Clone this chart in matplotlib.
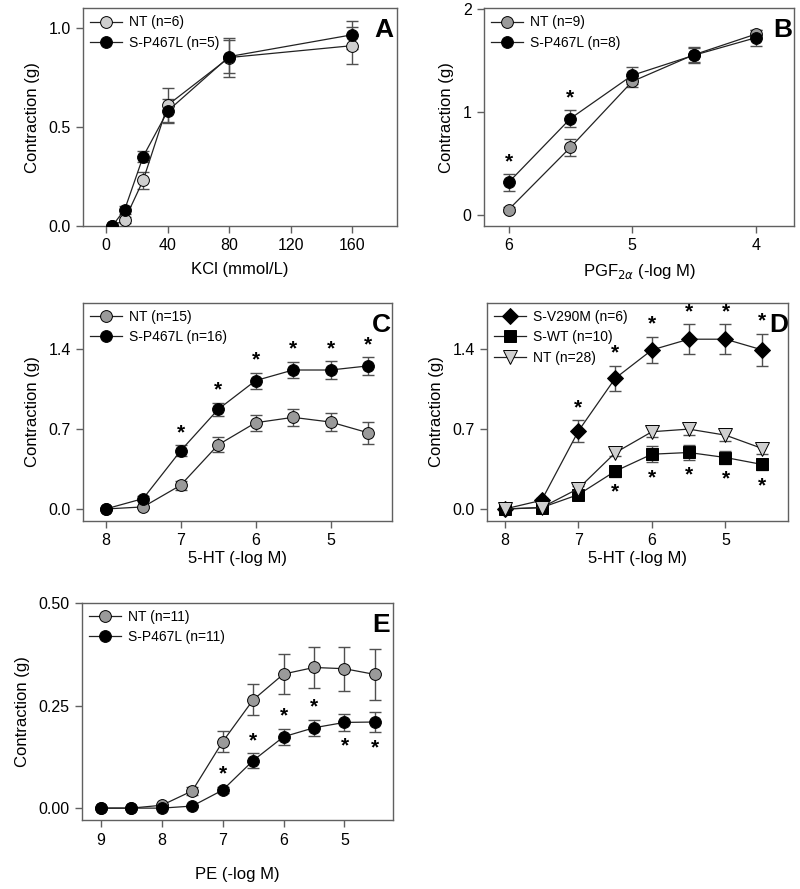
import matplotlib
matplotlib.use("Agg")
import matplotlib.pyplot as plt
import numpy as np

plt.rcParams['font.family'] = ['Liberation Sans', 'DejaVu Sans']

# ---------------- Data ----------------
# Panel A: KCl
a_x = [4, 12, 24, 40, 80, 160]
a_nt = [0.0, 0.03, 0.23, 0.61, 0.85, 0.91]
a_nt_err = [0.0, 0.015, 0.042, 0.085, 0.10, 0.095]
a_sp = [0.0, 0.082, 0.35, 0.58, 0.855, 0.965]
a_sp_err = [0.0, 0.02, 0.03, 0.06, 0.085, 0.07]

# Panel B: PGF2a
b_x = [6, 5.5, 5, 4.5, 4]
b_nt = [0.055, 0.66, 1.30, 1.56, 1.76]
b_nt_err = [0.02, 0.085, 0.05, 0.07, 0.04]
b_sp = [0.32, 0.94, 1.36, 1.555, 1.725]
b_sp_err = [0.08, 0.08, 0.08, 0.08, 0.08]
b_star = [True, True, False, False, False]

# Panel C: 5-HT
c_x = [8, 7.5, 7, 6.5, 6, 5.5, 5, 4.5]
c_nt = [0.0, 0.018, 0.208, 0.562, 0.756, 0.803, 0.762, 0.668]
c_nt_err = [0.0, 0.01, 0.04, 0.065, 0.07, 0.075, 0.08, 0.095]
c_sp = [0.0, 0.091, 0.51, 0.873, 1.125, 1.218, 1.218, 1.254]
c_sp_err = [0.0, 0.02, 0.05, 0.06, 0.07, 0.073, 0.075, 0.077]
c_star = [False, False, True, True, True, True, True, True]

# Panel D: 5-HT
d_x = [8, 7.5, 7, 6.5, 6, 5.5, 5, 4.5]
d_v290m = [0.0, 0.076, 0.683, 1.145, 1.394, 1.488, 1.488, 1.394]
d_v290m_err = [0.0, 0.02, 0.095, 0.11, 0.117, 0.13, 0.13, 0.143]
d_swt = [0.0, 0.012, 0.126, 0.331, 0.48, 0.495, 0.451, 0.39]
d_swt_err = [0.0, 0.01, 0.02, 0.05, 0.07, 0.063, 0.055, 0.05]
d_nt = [0.0, 0.012, 0.179, 0.492, 0.677, 0.70, 0.647, 0.53]
d_nt_err = [0.0, 0.01, 0.02, 0.03, 0.047, 0.048, 0.05, 0.05]
d_star_v290m = [False, False, True, True, True, True, True, True]
d_star_swt = [False, False, False, True, True, True, True, True]

# Panel E: PE
e_x = [9, 8.5, 8, 7.5, 7, 6.5, 6, 5.5, 5, 4.5]
e_nt = [0.0, 0.0, 0.007, 0.042, 0.162, 0.264, 0.327, 0.343, 0.34, 0.326]
e_nt_err = [0.0, 0.0, 0.004, 0.01, 0.025, 0.038, 0.048, 0.05, 0.054, 0.063]
e_sp = [0.0, 0.0, 0.0, 0.005, 0.044, 0.116, 0.174, 0.196, 0.209, 0.21]
e_sp_err = [0.0, 0.0, 0.0, 0.003, 0.008, 0.018, 0.02, 0.02, 0.02, 0.025]
e_star_above = [False, False, False, False, True, True, True, True, False, False]
e_star_below = [False, False, False, False, False, False, False, False, True, True]

# ---------------- Style ----------------
LIGHT = '#cfcfcf'
MID = '#9a9a9a'
ERRC = '#505050'
SPINE = '#606060'
MS = 8.5


def style_axes(ax):
    for s in ax.spines.values():
        s.set_color(SPINE)
        s.set_linewidth(1.0)
    ax.tick_params(direction='out', length=5, width=1.0, color=SPINE,
                   labelsize=11.5, pad=4, top=False, right=False)
    ax.set_ylabel('Contraction (g)', fontsize=12, labelpad=6)


def series(ax, x, y, err, marker, fc, label, ms=MS):
    ax.errorbar(x, y, yerr=err, fmt='none', ecolor=ERRC, elinewidth=1.0,
                capsize=4, capthick=1.0, zorder=2)
    ax.plot(x, y, color='#222222', lw=0.9, marker=marker, ms=ms,
            mfc=fc, mec='black', mew=0.7, label=label, zorder=3)


def stars(ax, x, y, err, flags, below=False, off=9):
    for xi, yi, ei, f in zip(x, y, err, flags):
        if not f:
            continue
        if below:
            ax.annotate('*', (xi, yi - ei), xytext=(0, -off), textcoords='offset points',
                        ha='center', va='center', fontsize=15, fontweight='bold')
        else:
            ax.annotate('*', (xi, yi + ei), xytext=(0, off), textcoords='offset points',
                        ha='center', va='center', fontsize=15, fontweight='bold')


def legend(ax):
    ax.legend(loc='upper left', frameon=False, fontsize=10, handlelength=2.3,
              handletextpad=0.5, borderaxespad=0.3, labelspacing=0.45,
              borderpad=0.2)


def letter(ax, s, xpos=0.99):
    ax.text(xpos, 0.955, s, transform=ax.transAxes, ha='right', va='top',
            fontsize=19, fontweight='bold')


fig = plt.figure(figsize=(8, 8.89), dpi=100)

# Panel A
axA = fig.add_axes([0.104, 0.746, 0.392, 0.2445])
series(axA, a_x, a_nt, a_nt_err, 'o', LIGHT, 'NT (n=6)')
series(axA, a_x, a_sp, a_sp_err, 'o', 'black', 'S-P467L (n=5)')
axA.set_xlim(-15, 189)
axA.set_ylim(0, 1.098)
axA.set_xticks([0, 40, 80, 120, 160])
axA.set_yticks([0.0, 0.5, 1.0])
axA.set_yticklabels(['0.0', '0.5', '1.0'])
axA.set_xlabel('KCl (mmol/L)', fontsize=12, labelpad=6)
style_axes(axA)
legend(axA)
letter(axA, 'A')

# Panel B
axB = fig.add_axes([0.605, 0.746, 0.3875, 0.2445])
series(axB, b_x, b_nt, b_nt_err, 'o', MID, 'NT (n=9)')
series(axB, b_x, b_sp, b_sp_err, 'o', 'black', 'S-P467L (n=8)')
stars(axB, b_x, b_sp, b_sp_err, b_star)
axB.set_xlim(6.2, 3.69)
axB.set_ylim(-0.103, 2.01)
axB.set_xticks([6, 5, 4])
axB.set_yticks([0, 1, 2])
axB.set_xlabel(r'PGF$_{2\alpha}$ (-log M)', fontsize=12, labelpad=6)
style_axes(axB)
legend(axB)
letter(axB, 'B', 0.995)

# Panel C
axC = fig.add_axes([0.104, 0.414, 0.386, 0.245])
series(axC, c_x, c_nt, c_nt_err, 'o', MID, 'NT (n=15)')
series(axC, c_x, c_sp, c_sp_err, 'o', 'black', 'S-P467L (n=16)')
stars(axC, c_x, c_sp, c_sp_err, c_star)
axC.set_xlim(8.3, 4.18)
axC.set_ylim(-0.105, 1.804)
axC.set_xticks([8, 7, 6, 5])
axC.set_yticks([0.0, 0.7, 1.4])
axC.set_yticklabels(['0.0', '0.7', '1.4'])
axC.set_xlabel('5-HT (-log M)', fontsize=12, labelpad=2)
style_axes(axC)
legend(axC)
letter(axC, 'C', 0.995)

# Panel D
axD = fig.add_axes([0.609, 0.414, 0.376, 0.245])
series(axD, d_x, d_v290m, d_v290m_err, 'D', 'black', 'S-V290M (n=6)', ms=8)
series(axD, d_x, d_swt, d_swt_err, 's', 'black', 'S-WT (n=10)', ms=8)
series(axD, d_x, d_nt, d_nt_err, 'v', LIGHT, 'NT (n=28)', ms=9.5)
stars(axD, d_x, d_v290m, d_v290m_err, d_star_v290m)
stars(axD, d_x, d_swt, d_swt_err, d_star_swt, below=True, off=11)
axD.set_xlim(8.24, 4.15)
axD.set_ylim(-0.105, 1.804)
axD.set_xticks([8, 7, 6, 5])
axD.set_yticks([0.0, 0.7, 1.4])
axD.set_yticklabels(['0.0', '0.7', '1.4'])
axD.set_xlabel('5-HT (-log M)', fontsize=12, labelpad=2)
style_axes(axD)
legend(axD)
letter(axD, 'D', 1.0)

# Panel E
axE = fig.add_axes([0.1025, 0.0776, 0.389, 0.244])
series(axE, e_x, e_nt, e_nt_err, 'o', MID, 'NT (n=11)')
series(axE, e_x, e_sp, e_sp_err, 'o', 'black', 'S-P467L (n=11)')
stars(axE, e_x, e_sp, e_sp_err, e_star_above)
stars(axE, e_x, e_sp, e_sp_err, e_star_below, below=True, off=11)
axE.set_xlim(9.31, 4.2)
axE.set_ylim(-0.029, 0.5)
axE.set_xticks([9, 8, 7, 6, 5])
axE.set_yticks([0.0, 0.25, 0.5])
axE.set_yticklabels(['0.00', '0.25', '0.50'])
axE.set_xlabel('PE (-log M)', fontsize=12, labelpad=14)
style_axes(axE)
legend(axE)
letter(axE, 'E')

fig.savefig('out.png', dpi=100)
